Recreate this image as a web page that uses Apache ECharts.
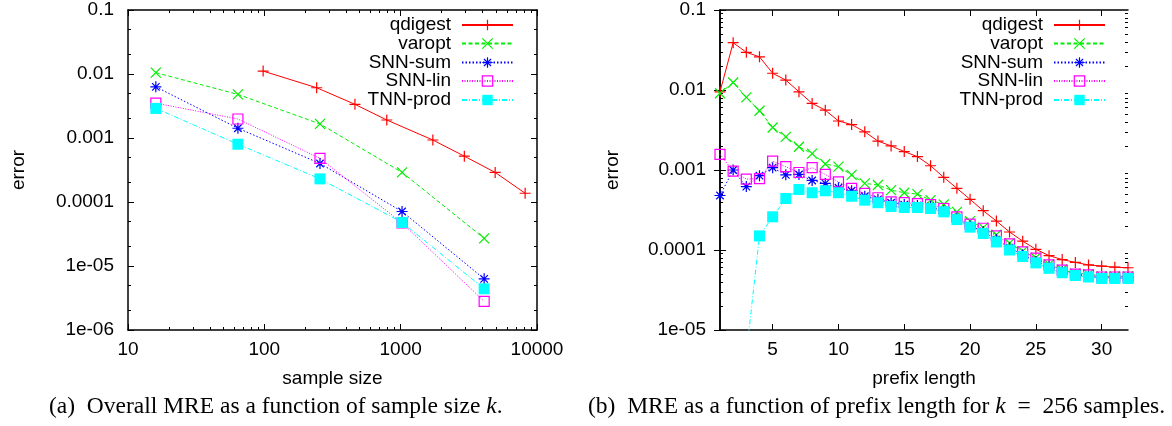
<!DOCTYPE html>
<html><head><meta charset="utf-8">
<script src="https://cdn.jsdelivr.net/npm/echarts@6/dist/echarts.min.js"></script>
<style>html,body{margin:0;padding:0;background:#fff}#c{width:1172px;height:426px}</style>
</head><body><div id="c"></div>
<script>
// ---------------- data ----------------
const seriesNames = ['qdigest', 'varopt', 'SNN-sum', 'SNN-lin', 'TNN-prod'];

// (a) overall MRE vs sample size
const sampleSizes  = [16, 64, 256, 1024, 4096];
const qdigestSizes = [98, 242, 462, 791, 1722, 2931, 4932, 8185];
const aQdigest = [0.0111, 0.0061, 0.00336, 0.00191, 0.00093, 0.00052, 0.00029, 0.000137];
const aVaropt  = [0.0105, 0.0048, 0.00166, 0.00029, 0.000027];
const aSnnSum  = [0.0063, 0.00142, 0.0004, 0.000071, 0.0000063];
const aSnnLin  = [0.0035, 0.00198, 0.00048, 0.000047, 0.0000028];
const aTnnProd = [0.0029, 0.0008, 0.00023, 0.000048, 0.0000044];

// (b) MRE vs prefix length (k = 256)
const prefixLengths = [1,2,3,4,5,6,7,8,9,10,11,12,13,14,15,16,17,18,19,20,21,22,23,24,25,26,27,28,29,30,31,32];
const bQdigest = [0.0095, 0.039, 0.0296, 0.026, 0.0162, 0.0133, 0.0095, 0.0068, 0.0056, 0.0041, 0.0037, 0.003,
                  0.0023, 0.002, 0.0017, 0.00147, 0.00113, 0.00081, 0.00059, 0.00043, 0.00031, 0.00023, 0.000168, 0.000129,
                  0.000102, 0.000085, 0.000076, 0.00007, 0.000065, 0.000063, 0.000061, 0.00006];
const bVaropt  = [0.0091, 0.0124, 0.0081, 0.0055, 0.0034, 0.0026, 0.00195, 0.0016, 0.00119, 0.0011, 0.00087, 0.00068,
                  0.00065, 0.00056, 0.00052, 0.0005, 0.00042, 0.00037, 0.0003, 0.00023, 0.00019, 0.000155, 0.000122, 0.000097,
                  0.00008, 0.000066, 0.000057, 0.000051, 0.00005, 0.000047, 0.000047, 0.000047];
const bSnnSum  = [0.00048, 0.001, 0.00062, 0.00085, 0.00107, 0.00087, 0.00088, 0.00074, 0.00068, 0.0006, 0.00055, 0.00047,
                  0.00043, 0.00039, 0.00037, 0.00036, 0.00035, 0.00031, 0.00025, 0.0002, 0.00017, 0.000135, 0.000107, 0.000087,
                  0.000072, 0.000062, 0.000054, 0.000049, 0.000047, 0.000045, 0.000045, 0.000045];
const bSnnLin  = [0.00157, 0.00097, 0.00077, 0.00078, 0.00129, 0.0011, 0.00093, 0.00107, 0.00088, 0.00071, 0.00059, 0.00051,
                  0.00045, 0.0004, 0.00039, 0.00038, 0.00037, 0.00033, 0.00026, 0.00021, 0.000187, 0.00015, 0.000119, 0.000095,
                  0.000079, 0.000065, 0.000056, 0.00005, 0.000049, 0.000046, 0.000046, 0.000046];
const bTnnProd = [null, null, 0.000005, 0.00015, 0.00026, 0.00044, 0.00057, 0.00052, 0.00055, 0.00052, 0.00047, 0.00042,
                  0.00039, 0.00035, 0.00034, 0.00034, 0.00033, 0.0003, 0.00024, 0.000193, 0.000161, 0.000126, 0.0001, 0.000083,
                  0.000069, 0.000059, 0.000052, 0.000048, 0.000046, 0.000044, 0.000044, 0.000044];

// ticks
const aXTickLabels = ['10', '100', '1000', '10000'];            // 10^1 .. 10^4
const aXMinorTicks = [20,30,40,50,60,70,80,90, 200,300,400,500,600,700,800,900, 2000,3000,4000,5000,6000,7000,8000,9000];
const aYTickLabels = ['1e-06', '1e-05', '0.0001', '0.001', '0.01', '0.1']; // 10^-6 .. 10^-1
const aYMinorTicks = [2e-6, 5e-6, 2e-5, 5e-5, 2e-4, 5e-4, 2e-3, 5e-3, 0.02, 0.05];
const bXTicks = [5, 10, 15, 20, 25, 30];
const bYTickLabels = ['1e-05', '0.0001', '0.001', '0.01', '0.1'];   // 10^-5 .. 10^-1
const bYMinorTicks = [2e-5,3e-5,4e-5,5e-5,6e-5,7e-5,8e-5,9e-5, 2e-4,3e-4,4e-4,5e-4,6e-4,7e-4,8e-4,9e-4,
                      0.002,0.003,0.004,0.005,0.006,0.007,0.008,0.009, 0.02,0.03,0.04,0.05,0.06,0.07,0.08,0.09];

const captionA = '(a)  Overall MRE as a function of sample size {k|k}.';
const captionB = '(b)  MRE as a function of prefix length for {k|k}  =  256 samples.';

// ---------------- styling ----------------
const FONT = '"Liberation Sans", Arial, Helvetica, sans-serif';
const SERIF = '"Liberation Serif", "Times New Roman", serif';
const FS = 19;
const SYM = {
  plus:  'path://M5,0L5,10M0,5L10,5',
  cross: 'path://M0,0L10,10M10,0L0,10',
  star:  'path://M5,0L5,10M0,5L10,5M1.6,1.6L8.4,8.4M8.4,1.6L1.6,8.4',
  box:   'path://M0,0L10,0L10,10L0,10Z'
};
const STY = {
  'qdigest':  {color: '#ff0000', symbol: SYM.plus,  size: 11, dash: 'solid',        fill: '#ff0000', bw: 1.2},
  'varopt':   {color: '#00ee00', symbol: SYM.cross, size: 10, dash: [4, 2.5],       fill: '#00ee00', bw: 1.2},
  'SNN-sum':  {color: '#0000ff', symbol: SYM.star,  size: 11, dash: [1.5, 2],       fill: '#0000ff', bw: 1.2},
  'SNN-lin':  {color: '#ff00ff', symbol: SYM.box,   size: 10, dash: [1, 1.5],       fill: 'rgba(0,0,0,0)', bw: 1.2},
  'TNN-prod': {color: '#00ffff', symbol: 'rect',    size: 11, dash: [5, 2, 1, 2],   fill: '#00ffff', bw: 0}
};

function mkSeries(name, gi, xs, ys) {
  const s = STY[name];
  return {
    type: 'line', name: name, xAxisIndex: gi * 4, yAxisIndex: gi * 4,
    data: xs.map((x, i) => [x, ys[i] == null ? '-' : ys[i]]),
    symbol: s.symbol, symbolSize: s.size, showAllSymbol: true,
    lineStyle: {color: s.color, width: 1, type: s.dash},
    itemStyle: {color: s.fill, borderColor: s.color, borderWidth: s.bw},
    emphasis: {disabled: true}, clip: true, z: 3
  };
}

function logLabel(labels, minExp) {
  return v => { const e = Math.round(Math.log10(v)); return labels[e - minExp] || ''; };
}

const LINE = {show: true, lineStyle: {color: '#000', width: 1.5}};
const TICKMAJ = {show: true, inside: true, length: 6, lineStyle: {color: '#000', width: 1}};
const LBL = {color: '#000', fontSize: FS, fontFamily: FONT};

function axesFor(dim, gi, cfg) {
  const pos = dim === 'x' ? ['bottom', 'top'] : ['left', 'right'];
  const out = [];
  const base = {gridIndex: gi, type: cfg.type, min: cfg.min, max: cfg.max, splitLine: {show: false}};
  if (cfg.type === 'log') base.logBase = 10;
  const mainTick = Object.assign({}, TICKMAJ);
  if (cfg.customMajor) mainTick.customValues = cfg.customMajor;
  const lbl = Object.assign({}, LBL, {margin: dim === 'x' ? 10 : 14, formatter: cfg.labelFmt});
  if (cfg.customMajor) lbl.customValues = cfg.customMajor;
  out.push(Object.assign({}, base, {
    position: pos[0], axisLine: LINE, axisTick: mainTick, axisLabel: lbl,
    name: cfg.name, nameLocation: 'middle', nameGap: cfg.nameGap,
    nameTextStyle: {color: '#000', fontSize: FS, fontFamily: FONT}
  }));
  out.push(Object.assign({}, base, {
    position: pos[1], axisLine: LINE, axisTick: mainTick, axisLabel: {show: false}
  }));
  for (let k = 0; k < 2; k++) {
    if (cfg.minorVals) {
      out.push({gridIndex: gi, type: 'value', min: cfg.minorMin, max: cfg.minorMax, position: pos[k],
        splitLine: {show: false}, axisLine: {show: false}, axisLabel: {show: false},
        axisTick: {show: true, inside: true, length: 3, lineStyle: {color: '#000', width: 1}, customValues: cfg.minorVals}});
    } else {
      out.push({gridIndex: gi, type: 'value', min: 0, max: 1, position: pos[k], show: false});
    }
  }
  return out;
}

const xAxes = [].concat(
  axesFor('x', 0, {type: 'log', min: 10, max: 10000, labelFmt: logLabel(aXTickLabels, 1),
    minorVals: aXMinorTicks.map(Math.log10), minorMin: 1, minorMax: 4, name: 'sample size', nameGap: 39}),
  axesFor('x', 1, {type: 'value', min: 1, max: 32, customMajor: bXTicks, labelFmt: v => String(v),
    name: 'prefix length', nameGap: 39})
);
const yAxes = [].concat(
  axesFor('y', 0, {type: 'log', min: 1e-6, max: 0.1, labelFmt: logLabel(aYTickLabels, -6),
    minorVals: aYMinorTicks.map(Math.log10), minorMin: -6, minorMax: -1, name: 'error', nameGap: 100}),
  axesFor('y', 1, {type: 'log', min: 1e-5, max: 0.1, labelFmt: logLabel(bYTickLabels, -5),
    minorVals: bYMinorTicks.map(Math.log10), minorMin: -5, minorMax: -1, name: 'error', nameGap: 98})
);

const series = [
  mkSeries('qdigest', 0, qdigestSizes, aQdigest),
  mkSeries('varopt', 0, sampleSizes, aVaropt),
  mkSeries('SNN-sum', 0, sampleSizes, aSnnSum),
  mkSeries('SNN-lin', 0, sampleSizes, aSnnLin),
  mkSeries('TNN-prod', 0, sampleSizes, aTnnProd),
  mkSeries('qdigest', 1, prefixLengths, bQdigest),
  mkSeries('varopt', 1, prefixLengths, bVaropt),
  mkSeries('SNN-sum', 1, prefixLengths, bSnnSum),
  mkSeries('SNN-lin', 1, prefixLengths, bSnnLin),
  mkSeries('TNN-prod', 1, prefixLengths, bTnnProd)
];

const legendCenters = [25, 43.5, 62.5, 81, 100];
const legends = [];
[658, 66].forEach(r => {
  seriesNames.forEach((n, i) => {
    legends.push({
      data: [n], right: r, top: legendCenters[i] - 9.5, orient: 'vertical', align: 'right',
      padding: 0, itemWidth: 51, itemHeight: 13, selectedMode: false,
      itemStyle: {borderWidth: STY[n].bw},
      textStyle: {color: '#000', fontSize: FS, fontFamily: FONT, lineHeight: 19, padding: [0, 6, 0, 0]}
    });
  });
});

const capStyle = {color: '#000', fontSize: 23.5, fontFamily: SERIF, fontWeight: 'normal',
  rich: {k: {fontStyle: 'italic', fontSize: 23.5, fontFamily: SERIF, color: '#000'}}};

const option = {
  animation: false,
  backgroundColor: '#fff',
  title: [
    {text: captionA, left: 49, top: 395, padding: 0, textStyle: capStyle},
    {text: captionB, left: 588, top: 395, padding: 0, textStyle: capStyle}
  ],
  grid: [
    {left: 128, top: 10, width: 409, height: 320, containLabel: false},
    {left: 720, top: 10, width: 408, height: 320, containLabel: false}
  ],
  legend: legends,
  xAxis: xAxes,
  yAxis: yAxes,
  series: series
};

const chart = echarts.init(document.getElementById('c'));
chart.setOption(option);
</script></body></html>
